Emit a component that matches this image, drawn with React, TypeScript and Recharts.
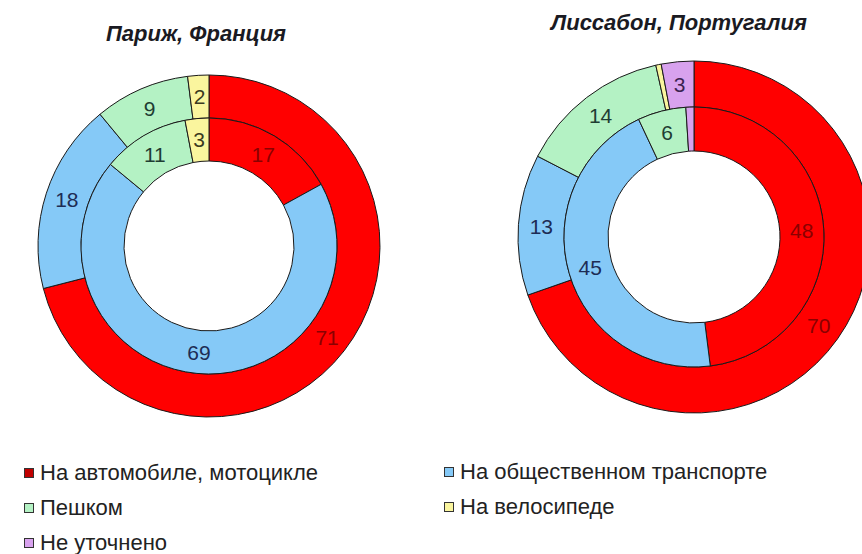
import React from 'react';
import { PieChart, Pie, Cell } from 'recharts';

const CATEGORIES = ['На автомобиле, мотоцикле', 'На общественном транспорте', 'Пешком', 'На велосипеде', 'Не уточнено'];
const COLORS = ['#FF0000', '#85C9F7', '#B4F2C4', '#FAF59E', '#D8A2EE'];
const LABEL_COLORS = ['#8a0000', '#1d2c55', '#1f3d33', '#3a3a20', '#3b2350'];

// Paris: outer ring / inner ring
const parisOuter = [71, 18, 9, 2, 0];
const parisInner = [17, 69, 11, 3, 0];
// Lisbon: outer ring / inner ring
const lisbonOuter = [70, 13, 14, 0.5, 3];
const lisbonInner = [48, 45, 6, 0, 1];

const toRows = (values: number[]) =>
    CATEGORIES.map((name, i) => ({ name, value: values[i], idx: i }));

const RAD = Math.PI / 180;

const renderLabel = (props: any) => {
    const { cx, cy, midAngle, innerRadius, outerRadius, value, payload } = props;
    if (value < 2) return null;
    const r = (innerRadius + outerRadius) / 2;
    const x = cx + r * Math.cos(-midAngle * RAD);
    const y = cy + r * Math.sin(-midAngle * RAD);
    const idx = payload?.idx ?? props.idx ?? 0;
    return (
        <text
            x={x}
            y={y}
            fill={LABEL_COLORS[idx]}
            textAnchor="middle"
            dominantBaseline="central"
            fontSize={21}
            fontFamily="Arial, 'Liberation Sans', sans-serif"
        >
            {value}
        </text>
    );
};

const Ring = ({ values, cx, cy, inner, outer, id }: any) => (
    <Pie
        data={toRows(values)}
        dataKey="value"
        nameKey="name"
        cx={cx}
        cy={cy}
        innerRadius={inner}
        outerRadius={outer}
        startAngle={90}
        endAngle={-270}
        stroke="#1a1a1a"
        strokeWidth={1}
        label={renderLabel}
        labelLine={false}
        isAnimationActive={false}
        key={id}
    >
        {values.map((_: number, i: number) => (
            <Cell key={`${id}-${i}`} fill={COLORS[i]} />
        ))}
    </Pie>
);

const titleStyle: React.CSSProperties = {
    position: 'absolute',
    fontFamily: "Arial, 'Liberation Sans', sans-serif",
    fontWeight: 'bold',
    fontStyle: 'italic',
    fontSize: 22,
    color: '#1a1a22',
    transform: 'translateX(-50%)',
    whiteSpace: 'nowrap',
};

const legendPos = [
    { left: 24, top: 460 },
    { left: 444, top: 459 },
    { left: 24, top: 495 },
    { left: 444, top: 494 },
    { left: 24, top: 530 },
];

export default function App() {
    return (
        <div style={{ position: 'absolute', left: 0, top: 0, width: 862, height: 554, background: '#fff', overflow: 'hidden' }}>
            <PieChart
                width={862}
                height={554}
                margin={{ top: 0, right: 0, bottom: 0, left: 0 }}
                style={{ position: 'absolute', left: 0, top: 0 }}
            >
                {Ring({ values: parisOuter, cx: 209, cy: 246, inner: 128, outer: 171, id: 'po' })}
                {Ring({ values: parisInner, cx: 209, cy: 246, inner: 85, outer: 128, id: 'pi' })}
                {Ring({ values: lisbonOuter, cx: 694, cy: 237, inner: 130, outer: 176, id: 'lo' })}
                {Ring({ values: lisbonInner, cx: 694, cy: 237, inner: 86, outer: 130, id: 'li' })}
            </PieChart>
            <div style={{ ...titleStyle, left: 196, top: 21 }}>Париж, Франция</div>
            <div style={{ ...titleStyle, left: 679, top: 10 }}>Лиссабон, Португалия</div>
            {CATEGORIES.map((name, i) => (
                <div
                    key={name}
                    style={{
                        position: 'absolute',
                        left: legendPos[i].left,
                        top: legendPos[i].top,
                        display: 'flex',
                        alignItems: 'center',
                        fontFamily: "Arial, 'Liberation Sans', sans-serif",
                        fontSize: 22,
                        lineHeight: '26px',
                        color: '#222',
                        whiteSpace: 'nowrap',
                    }}
                >
                    <span
                        style={{
                            display: 'inline-block',
                            width: 8,
                            height: 8,
                            background: i === 0 ? '#c00000' : COLORS[i],
                            border: '1px solid #333',
                            marginRight: 6,
                        }}
                    />
                    {name}
                </div>
            ))}
        </div>
    );
}
